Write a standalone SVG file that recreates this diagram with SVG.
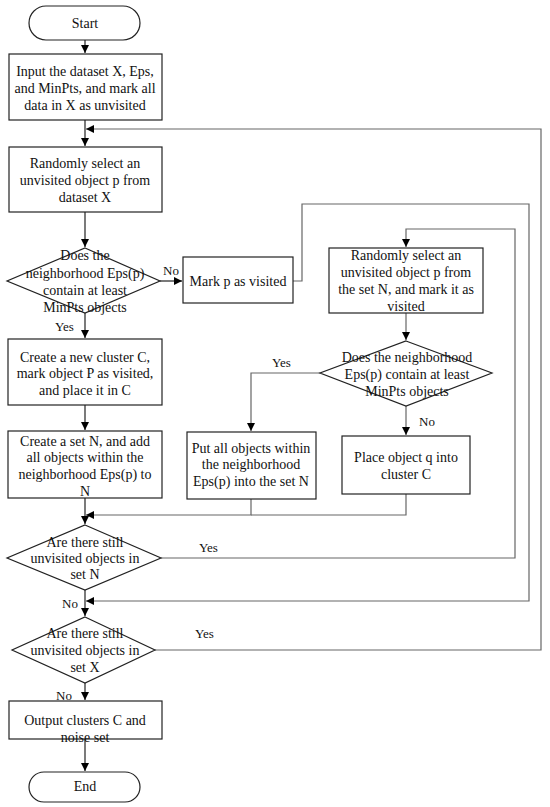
<svg xmlns="http://www.w3.org/2000/svg" width="550" height="807" viewBox="0 0 550 807">
<style>
.s{fill:#fff;stroke:#222;stroke-width:1.2}
.t{font-family:"Liberation Serif","Times New Roman",serif;font-size:14px;fill:#111;text-anchor:middle}
.l{font-family:"Liberation Serif","Times New Roman",serif;font-size:13px;fill:#111}
.c{fill:none;stroke:#222;stroke-width:1.2}
.g{fill:none;stroke:#666;stroke-width:1.2}
</style>
<defs>
<marker id="a" viewBox="0 0 10 10" refX="10" refY="5" markerWidth="8" markerHeight="8" markerUnits="userSpaceOnUse" orient="auto">
<path d="M0,0L10,5L0,10z" fill="#000"/>
</marker>
</defs>
<rect width="550" height="807" fill="#fff"/>
<g id="connectors">
<path class="c" d="M85,40V53" marker-end="url(#a)"/>
<path class="c" d="M85,120V146" marker-end="url(#a)"/>
<path class="c" d="M85,212V247" marker-end="url(#a)"/>
<path class="c" d="M160,281H182" marker-end="url(#a)"/>
<path class="c" d="M85,313V338" marker-end="url(#a)"/>
<path class="c" d="M85,405V430" marker-end="url(#a)"/>
<path class="c" d="M85,498V524" marker-end="url(#a)"/>
<path class="g" d="M293,281H302V204H529V601H86" marker-end="url(#a)"/>
<path class="g" d="M406,313V340" marker-end="url(#a)"/>
<path class="g" d="M320,373H251V431" marker-end="url(#a)"/>
<path class="g" d="M406,406V435" marker-end="url(#a)"/>
<path class="g" d="M251,499V515H86" marker-end="url(#a)"/>
<path class="g" d="M406,494V515H251"/>
<path class="g" d="M161,558H515V229H406V247" marker-end="url(#a)"/>
<path class="c" d="M85,590V616" marker-end="url(#a)"/>
<path class="g" d="M155,650H541V129H86" marker-end="url(#a)"/>
<path class="c" d="M85,683V700" marker-end="url(#a)"/>
<path class="c" d="M85,739V771" marker-end="url(#a)"/>
<text class="l" x="163" y="275">No</text>
<text class="l" x="55" y="331">Yes</text>
<text class="l" x="272" y="367">Yes</text>
<text class="l" x="419" y="426">No</text>
<text class="l" x="199" y="552">Yes</text>
<text class="l" x="62" y="608">No</text>
<text class="l" x="195" y="638">Yes</text>
<text class="l" x="56" y="700">No</text>
</g>
<g id="start">
<rect class="s" x="29" y="6" width="111" height="34" rx="17"/>
<text class="t" x="85" y="28">Start</text>
</g>
<g id="input">
<rect class="s" x="9" y="54" width="153" height="66"/>
<text class="t" x="85" y="76">Input the dataset X, Eps,</text>
<text class="t" x="85" y="93">and MinPts, and mark all</text>
<text class="t" x="85" y="110">data in X as unvisited</text>
</g>
<g id="select">
<rect class="s" x="9" y="147" width="153" height="65"/>
<text class="t" x="85" y="168">Randomly select an</text>
<text class="t" x="85" y="185">unvisited object p from</text>
<text class="t" x="85" y="202">dataset X</text>
</g>
<g id="check1">
<polygon class="s" points="85,248 160,281 85,313 7,281"/>
<text class="t" x="85" y="260">Does the</text>
<text class="t" x="85" y="278">neighborhood Eps(p)</text>
<text class="t" x="85" y="295">contain at least</text>
<text class="t" x="85" y="312">MinPts objects</text>
</g>
<g id="mark">
<rect class="s" x="183" y="257" width="110" height="46"/>
<text class="t" x="238" y="286">Mark p as visited</text>
</g>
<g id="cluster">
<rect class="s" x="8" y="339" width="154" height="66"/>
<text class="t" x="85" y="362">Create a new cluster C,</text>
<text class="t" x="85" y="378">mark object P as visited,</text>
<text class="t" x="85" y="395">and place it in C</text>
</g>
<g id="setn">
<rect class="s" x="8" y="431" width="154" height="67"/>
<text class="t" x="85" y="446">Create a set N, and add</text>
<text class="t" x="85" y="462">all objects within the</text>
<text class="t" x="85" y="479">neighborhood Eps(p) to</text>
<text class="t" x="85" y="496">N</text>
</g>
<g id="selectn">
<rect class="s" x="329" y="248" width="154" height="65"/>
<text class="t" x="406" y="260">Randomly select an</text>
<text class="t" x="406" y="277">unvisited object p from</text>
<text class="t" x="406" y="294">the set N, and mark it as</text>
<text class="t" x="406" y="311">visited</text>
</g>
<g id="check2">
<polygon class="s" points="406,341 492,373 406,406 320,373"/>
<text class="t" x="407" y="362">Does the neighborhood</text>
<text class="t" x="407" y="379">Eps(p) contain at least</text>
<text class="t" x="407" y="396">MinPts objects</text>
</g>
<g id="put">
<rect class="s" x="187" y="432" width="129" height="67"/>
<text class="t" x="251" y="453">Put all objects within</text>
<text class="t" x="251" y="469">the neighborhood</text>
<text class="t" x="251" y="486">Eps(p) into the set N</text>
</g>
<g id="place">
<rect class="s" x="342" y="436" width="128" height="58"/>
<text class="t" x="406" y="462">Place object q into</text>
<text class="t" x="406" y="479">cluster C</text>
</g>
<g id="check3">
<polygon class="s" points="85,525 161,558 85,590 7,558"/>
<text class="t" x="85" y="547">Are there still</text>
<text class="t" x="85" y="563">unvisited objects in</text>
<text class="t" x="85" y="579">set N</text>
</g>
<g id="check4">
<polygon class="s" points="85,617 155,650 85,683 12,650"/>
<text class="t" x="85" y="638">Are there still</text>
<text class="t" x="85" y="655">unvisited objects in</text>
<text class="t" x="85" y="672">set X</text>
</g>
<g id="output">
<rect class="s" x="9" y="701" width="153" height="38"/>
<text class="t" x="85" y="725">Output clusters C and</text>
<text class="t" x="85" y="742">noise set</text>
</g>
<g id="end">
<rect class="s" x="29" y="772" width="111" height="30" rx="15"/>
<text class="t" x="85" y="791">End</text>
</g>
</svg>
